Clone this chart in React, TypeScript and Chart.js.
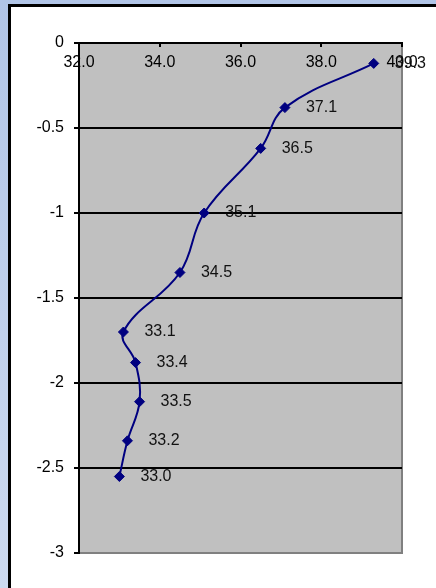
import { useEffect, useRef } from 'react';
import { Chart, registerables } from 'chart.js';

Chart.register(...registerables);

// Temperature (°C) against depth, one reading per station
const temperature = [39.3, 37.1, 36.5, 35.1, 34.5, 33.1, 33.4, 33.5, 33.2, 33.0];
const depth = [-0.12, -0.38, -0.62, -1.0, -1.35, -1.7, -1.88, -2.11, -2.34, -2.55];

const xTicks = [32, 34, 36, 38, 40];
const yTicks = [0, -0.5, -1, -1.5, -2, -2.5, -3];
const yTickLabels = ['0', '-0.5', '-1', '-1.5', '-2', '-2.5', '-3'];

const FONT = '"Liberation Sans", Arial, sans-serif';
const LINE = '#000080';

const framePlugin = {
  id: 'frame',
  beforeDraw(chart: any) {
    const { ctx, width, height, chartArea: a } = chart;
    ctx.save();
    const g = ctx.createLinearGradient(0, 0, 0, height);
    g.addColorStop(0, '#b1c5e7');
    g.addColorStop(1, '#cddaf0');
    ctx.fillStyle = g;
    ctx.fillRect(0, 0, width, height);
    // white panel with a dark frame on its visible edges
    ctx.fillStyle = '#ffffff';
    ctx.fillRect(8, 4, width, height);
    ctx.fillStyle = '#000000';
    ctx.fillRect(8, 4, 3, height);
    ctx.fillRect(8, 4, width, 3);
    // plot area
    ctx.fillStyle = '#c0c0c0';
    ctx.fillRect(a.left, a.top, a.right - a.left, a.bottom - a.top);
    ctx.strokeStyle = '#808080';
    ctx.lineWidth = 2;
    ctx.beginPath();
    ctx.moveTo(a.right, a.top);
    ctx.lineTo(a.right, a.bottom);
    ctx.lineTo(a.left, a.bottom);
    ctx.stroke();
    ctx.restore();
  },
  afterDraw(chart: any) {
    const { ctx, chartArea: a } = chart;
    const xs = chart.scales.x;
    ctx.save();
    // short inward tick marks on the top axis
    ctx.strokeStyle = '#000';
    ctx.lineWidth = 2;
    xTicks.forEach((v) => {
      const px = Math.round(xs.getPixelForValue(v));
      ctx.beginPath();
      ctx.moveTo(px, a.top - 1);
      ctx.lineTo(px, a.top + 4);
      ctx.stroke();
    });
    // value labels beside each point
    const meta = chart.getDatasetMeta(0);
    ctx.fillStyle = '#111';
    ctx.font = `16px ${FONT}`;
    ctx.textAlign = 'left';
    ctx.textBaseline = 'middle';
    meta.data.forEach((el: any, i: number) => {
      ctx.fillText(temperature[i].toFixed(1), el.x + 21, el.y);
    });
    ctx.restore();
  },
};

export default function App() {
  const ref = useRef<HTMLCanvasElement>(null);

  useEffect(() => {
    if (!ref.current) return;
    const chart = new Chart(ref.current, {
      type: 'scatter',
      data: {
        datasets: [
          {
            data: temperature.map((t, i) => ({ x: t, y: depth[i] })),
            showLine: true,
            borderColor: LINE,
            backgroundColor: LINE,
            borderWidth: 2,
            tension: 0.4,
            pointStyle: 'rectRot',
            pointRadius: 5,
            pointHoverRadius: 5,
            pointBorderWidth: 1,
            pointBorderColor: LINE,
            pointBackgroundColor: LINE,
          } as any,
        ],
      },
      options: {
        responsive: false,
        animation: false,
        events: [],
        layout: { padding: { left: 0, top: 0, right: 34, bottom: 35 } },
        plugins: {
          legend: { display: false },
          tooltip: { enabled: false },
        },
        scales: {
          x: {
            type: 'linear',
            position: 'top',
            min: 32,
            max: 40,
            afterBuildTicks: (s: any) => {
              s.ticks = xTicks.map((v) => ({ value: v }));
            },
            afterFit: (s: any) => {
              s.height = 43;
            },
            grid: { display: true, drawOnChartArea: false, drawTicks: false },
            border: { display: true, color: '#000', width: 2 },
            ticks: {
              mirror: true,
              padding: 10,
              color: '#000',
              autoSkip: false,
              maxRotation: 0,
              font: { family: FONT, size: 16 },
              callback: (v: any) => Number(v).toFixed(1),
            },
          },
          y: {
            type: 'linear',
            min: -3,
            max: 0,
            afterBuildTicks: (s: any) => {
              s.ticks = yTicks.map((v) => ({ value: v }));
            },
            afterFit: (s: any) => {
              s.width = 79;
            },
            grid: {
              color: (c: any) => (c.tick && c.tick.value === -3 ? '#808080' : '#000'),
              lineWidth: 2,
              tickLength: 5,
              tickColor: '#000',
              tickWidth: 2,
            },
            border: { display: true, color: '#000', width: 2 },
            ticks: {
              padding: 10,
              color: '#000',
              font: { family: FONT, size: 16 },
              callback: (v: any) => yTickLabels[yTicks.indexOf(Number(v))],
            },
          },
        },
      } as any,
      plugins: [framePlugin],
    });
    return () => chart.destroy();
  }, []);

  return (
    <div style={{ position: 'absolute', left: 0, top: 0, width: 436, height: 588 }}>
      <canvas ref={ref} width={436} height={588} style={{ display: 'block' }} />
    </div>
  );
}
